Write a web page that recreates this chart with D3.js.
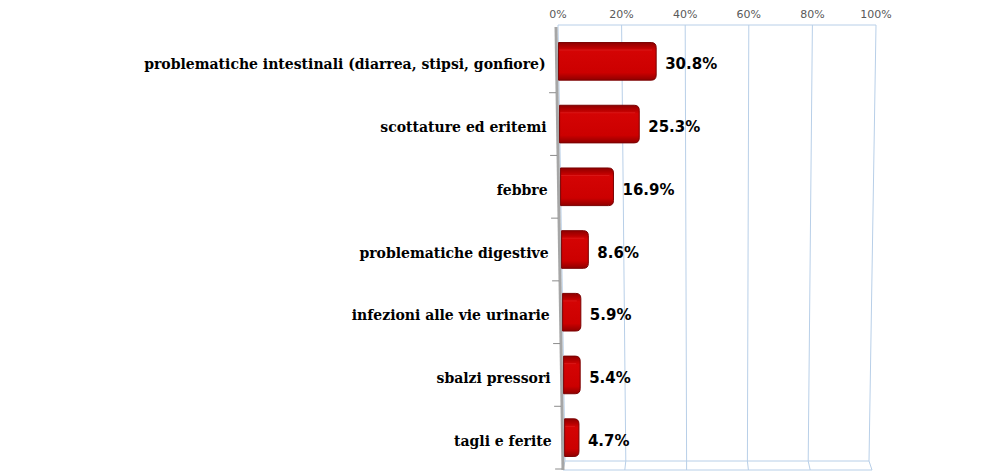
<!DOCTYPE html>
<html>
<head>
<meta charset="utf-8">
<script src="https://cdn.jsdelivr.net/npm/d3@7"></script>
<style>
  body { margin: 0; background: #fff; }
</style>
</head>
<body>
<div id="chart"></div>
<script>
var categories = ["problematiche intestinali (diarrea, stipsi, gonfiore)", "scottature ed eritemi", "febbre",
  "problematiche digestive", "infezioni alle vie urinarie", "sbalzi pressori", "tagli e ferite"];
var values = [30.8, 25.3, 16.9, 8.6, 5.9, 5.4, 4.7];
var ticks = [0, 20, 40, 60, 80, 100];

var width = 1000, height = 476;
var svg = d3.select("#chart").append("svg")
    .attr("width", width)
    .attr("height", height);

// slight perspective: the value axis at the top and at the floor
var topY = 25, floorY = 461, frontY = 470;
var xTop = d3.scaleLinear().domain([0, 100]).range([558, 876]);
var xBot = d3.scaleLinear().domain([0, 100]).range([565, 869]);
var xFront = d3.scaleLinear().domain([0, 100]).range([563, 872]);
function px(v, y) {
    return d3.interpolateNumber(xTop(v), xBot(v))((y - topY) / (floorY - topY));
}

var y = d3.scaleBand().domain(categories).range([30, 469]).paddingInner(0.4).paddingOuter(0.2);

var defs = svg.append("defs");
var grad = defs.append("linearGradient").attr("id", "barGrad")
    .attr("x1", 0).attr("y1", 0).attr("x2", 0).attr("y2", 1);
grad.append("stop").attr("offset", "0%").attr("stop-color", "#8e0000");
grad.append("stop").attr("offset", "12%").attr("stop-color", "#b40000");
grad.append("stop").attr("offset", "22%").attr("stop-color", "#d40404");
grad.append("stop").attr("offset", "80%").attr("stop-color", "#cc0000");
grad.append("stop").attr("offset", "100%").attr("stop-color", "#900000");

var gridColor = "#b8cfe8";

// gridlines
svg.append("g").selectAll("line").data(ticks).enter().append("line")
    .attr("x1", d => xTop(d)).attr("y1", topY)
    .attr("x2", d => xBot(d)).attr("y2", floorY)
    .attr("stroke", gridColor).attr("stroke-width", 1);
// floor
svg.append("g").selectAll("line").data(ticks).enter().append("line")
    .attr("x1", d => xBot(d)).attr("y1", floorY)
    .attr("x2", d => xFront(d)).attr("y2", frontY)
    .attr("stroke", gridColor).attr("stroke-width", 1);
svg.append("line").attr("x1", xTop(0)).attr("x2", xTop(100)).attr("y1", topY).attr("y2", topY)
    .attr("stroke", gridColor);
svg.append("line").attr("x1", xBot(0)).attr("x2", xBot(100)).attr("y1", floorY).attr("y2", floorY)
    .attr("stroke", gridColor);
svg.append("line").attr("x1", xFront(0)).attr("x2", xFront(100)).attr("y1", frontY).attr("y2", frontY)
    .attr("stroke", gridColor);

// tick labels on top
svg.append("g").selectAll("text").data(ticks).enter().append("text")
    .attr("x", d => xTop(d)).attr("y", 18)
    .attr("text-anchor", "middle")
    .attr("font-family", "DejaVu Sans, Verdana, sans-serif")
    .attr("font-size", 11)
    .attr("fill", "#595959")
    .text(d => d + "%");

// wall edge (category axis)
svg.append("line").attr("x1", 556).attr("y1", 27).attr("x2", 563).attr("y2", frontY)
    .attr("stroke", "#a6a6a6").attr("stroke-width", 3);
var bounds = categories.map(c => y(c) - y.step() * y.paddingInner() / 2).concat([469]);
svg.append("g").selectAll("line").data(bounds.slice(1)).enter().append("line")
    .attr("x1", d => px(0, d) - 10).attr("x2", d => px(0, d) - 3)
    .attr("y1", d => d).attr("y2", d => d)
    .attr("stroke", "#8c8c8c").attr("stroke-width", 1);

// bars
function barPath(x0, y0, x1, h) {
    var r = 5;
    return "M" + x0 + "," + y0 + " L" + (x1 - r) + "," + y0 +
        " Q" + x1 + "," + y0 + " " + x1 + "," + (y0 + r) +
        " L" + x1 + "," + (y0 + h - r) +
        " Q" + x1 + "," + (y0 + h) + " " + (x1 - r) + "," + (y0 + h) +
        " L" + x0 + "," + (y0 + h) + " Z";
}
var bars = svg.append("g").selectAll("g").data(categories).enter().append("g");
bars.append("path")
    .attr("d", (c, i) => {
        var yc = y(c) + y.bandwidth() / 2;
        return barPath(px(0, yc), y(c), px(values[i], yc), y.bandwidth());
    })
    .attr("fill", "url(#barGrad)")
    .attr("stroke", "#7a0000").attr("stroke-width", 1);
// top highlight stripe
bars.append("line")
    .attr("x1", c => px(0, y(c)) + 1)
    .attr("x2", (c, i) => px(values[i], y(c) + y.bandwidth() / 2) - 4)
    .attr("y1", c => y(c) + y.bandwidth() * 0.2)
    .attr("y2", c => y(c) + y.bandwidth() * 0.2)
    .attr("stroke", "#e02020").attr("stroke-width", 1).attr("opacity", 0.7);

// value labels
bars.append("text")
    .attr("x", (c, i) => px(values[i], y(c) + y.bandwidth() / 2) + 9)
    .attr("y", c => y(c) + y.bandwidth() / 2 + 8)
    .attr("font-family", "DejaVu Sans, Verdana, sans-serif")
    .attr("font-weight", "bold")
    .attr("font-size", 15)
    .attr("fill", "#000")
    .text((c, i) => values[i].toFixed(1) + "%");

// category labels
svg.append("g").selectAll("text").data(categories).enter().append("text")
    .attr("x", c => px(0, y(c) + y.bandwidth() / 2) - 13)
    .attr("y", c => y(c) + y.bandwidth() / 2 + 8)
    .attr("text-anchor", "end")
    .attr("font-family", "DejaVu Serif, serif")
    .attr("font-weight", "bold")
    .attr("font-size", 14)
    .attr("fill", "#000")
    .text(c => c);
</script>
</body>
</html>
